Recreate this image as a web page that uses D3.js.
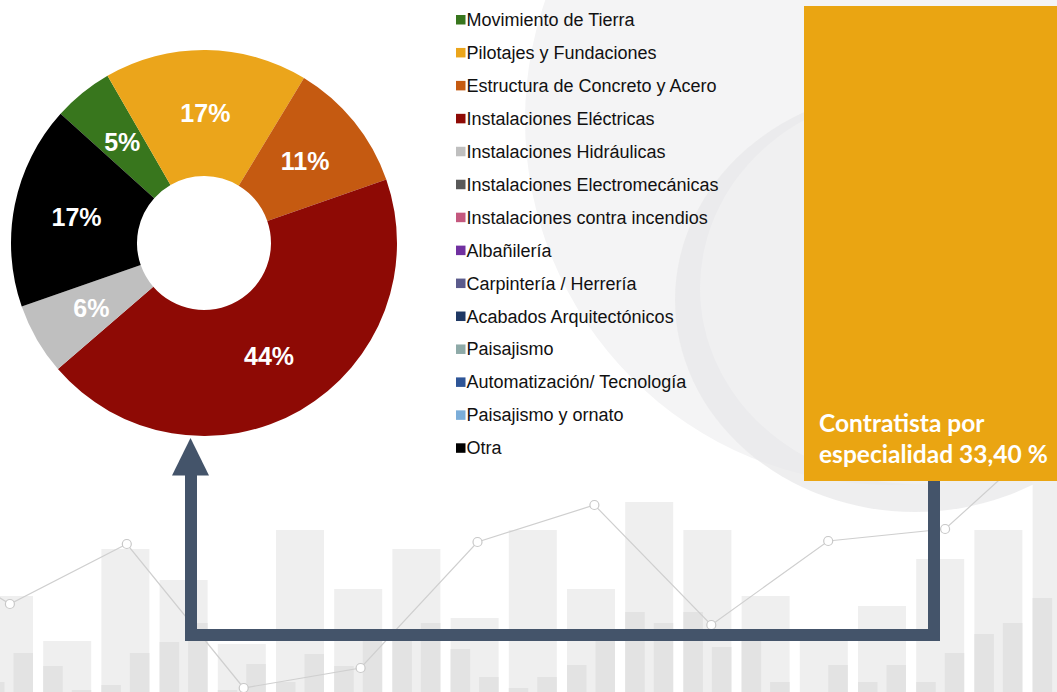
<!DOCTYPE html>
<html><head><meta charset="utf-8">
<script src="https://cdn.jsdelivr.net/npm/d3@7"></script>
<style>html,body{margin:0;padding:0;background:#fff;overflow:hidden}</style>
</head><body>
<svg id="chart" width="1057" height="692"></svg>
<script>
// ---- Data ----
const categories = ["Movimiento de Tierra","Pilotajes y Fundaciones","Estructura de Concreto y Acero","Instalaciones Eléctricas","Instalaciones Hidráulicas","Instalaciones Electromecánicas","Instalaciones contra incendios","Albañilería","Carpintería / Herrería","Acabados Arquitectónicos","Paisajismo","Automatización/ Tecnología","Paisajismo y ornato","Otra"];
const values = [5,17,11,44,6,0,0,0,0,0,0,0,0,17];
const colors = ["#38761d","#eba51b","#c55a11","#8e0a05","#bfbfbf","#595959","#c4587e","#7030a0","#5b5b8c","#1f3864","#8eaaa8","#2e5597","#7badd9","#000000"];
const boxLines = ["Contratista por","especialidad 33,40 %"];
// decorative background bars (heights in px): light, dark-left, dark-right
const bgLight = [96,51,143,112,48,162,103,143,74,162,103,190,162,96,51,86,133,162,262];
const bgDarkL = [10,26,7,50,2,10,26,52,43,4,27,80,80,54,0,10,10,58,94];
const bgDarkR = [39,2,39,69,28,38,52,69,15,15,52,69,45,10,27,27,39,69,0];
// decorative background line values (y in px from top)
const bgLine = [534,604,544,688,668,542,505,625,541,529,423];

const svg = d3.select("#chart");
const W = 1057, H = 692;

// ---- background ----
const bg = svg.append("g");
bg.append("circle").attr("cx",890).attr("cy",120).attr("r",365).attr("fill","#f4f4f5");
bg.append("ellipse").attr("cx",915).attr("cy",300).attr("rx",240).attr("ry",212).attr("fill","#e8e8ea").attr("opacity",0.75);
bg.append("ellipse").attr("cx",915).attr("cy",288).attr("rx",215).attr("ry",196).attr("fill","#f0f0f1");

const groupX = d3.scaleLinear().domain([0,1]).range([-15,43.2]);
const yPix = d3.scaleLinear().domain([0,692]).range([H,0]);
const bw = 48, dw = 19.5;
bgLight.forEach((v,i)=>{
  const x0 = groupX(i);
  bg.append("rect").attr("x",x0).attr("y",yPix(v)).attr("width",bw).attr("height",H-yPix(v)).attr("fill","#efefef");
  bg.append("rect").attr("x",x0).attr("y",yPix(bgDarkL[i])).attr("width",dw).attr("height",H-yPix(bgDarkL[i])).attr("fill","#e3e3e3");
  bg.append("rect").attr("x",x0+bw-dw).attr("y",yPix(bgDarkR[i])).attr("width",dw).attr("height",H-yPix(bgDarkR[i])).attr("fill","#e3e3e3");
});
const lx = d3.scaleLinear().domain([0,1]).range([-107,9.9]);
const lineGen = d3.line().x((d,i)=>lx(i)).y(d=>d);
bg.append("path").attr("d",lineGen(bgLine)).attr("fill","none").attr("stroke","#cfcfcf").attr("stroke-width",1.2);
bg.selectAll("circle.pt").data(bgLine).enter().append("circle").attr("class","pt")
  .attr("cx",(d,i)=>lx(i)).attr("cy",d=>d).attr("r",4.5).attr("fill","#fff").attr("stroke","#c8c8c8").attr("stroke-width",1.2);

// ---- donut ----
const cx = 204, cy = 243, R = 193, r0 = 67;
const a0 = -48*Math.PI/180;
const pie = d3.pie().sort(null).value(d=>d).startAngle(a0).endAngle(a0+2*Math.PI);
const arcs = pie(values);
const arc = d3.arc().innerRadius(r0).outerRadius(R);
const labelArc = d3.arc().innerRadius(r0).outerRadius(R);
const g = svg.append("g").attr("transform",`translate(${cx},${cy})`);
g.selectAll("path").data(arcs).enter().append("path")
  .attr("d",arc).attr("fill",(d,i)=>colors[i]);
g.selectAll("text").data(arcs.filter(d=>d.value>0)).enter().append("text")
  .attr("transform",d=>`translate(${labelArc.centroid(d)})`)
  .attr("text-anchor","middle").attr("dy","0.36em")
  .attr("font-family","Liberation Sans, Arial, sans-serif").attr("font-weight","bold").attr("font-size",25)
  .attr("fill","#fff").text(d=>d.value+"%");

// ---- legend ----
const ly = d3.scalePoint().domain(categories).range([19.7,448]);
const leg = svg.append("g");
categories.forEach((c,i)=>{
  leg.append("rect").attr("x",456).attr("y",ly(c)-4.7).attr("width",9.5).attr("height",9.5).attr("fill",colors[i]);
  leg.append("text").attr("x",466.5).attr("y",ly(c)+6.3).attr("font-family","Liberation Sans, Arial, sans-serif")
    .attr("font-size",18).attr("fill","#111").text(c);
});

// ---- orange box ----
svg.append("rect").attr("x",804).attr("y",6).attr("width",253).attr("height",475).attr("fill","#eaa512");
const t2 = svg.append("text").attr("x",819).attr("y",463).attr("font-family","Lato, 'Open Sans', sans-serif")
  .attr("font-weight","bold").attr("font-size",24).attr("fill","#fff").text(boxLines[1]);
const len = t2.node().getComputedTextLength();
const fs = 24*229/len;
t2.attr("font-size",fs);
svg.append("text").attr("x",819).attr("y",432).attr("font-family","Lato, 'Open Sans', sans-serif")
  .attr("font-weight","bold").attr("font-size",fs).attr("fill","#fff").text(boxLines[0]);

// ---- connector arrow ----
const col = "#44546a";
svg.append("path").attr("d","M191,474 L191,635 L934,635 L934,481").attr("fill","none")
  .attr("stroke",col).attr("stroke-width",12).attr("stroke-linejoin","miter");
svg.append("path").attr("d","M190.5,438 L209,475.5 L172,475.5 Z").attr("fill",col);
</script>
</body></html>
